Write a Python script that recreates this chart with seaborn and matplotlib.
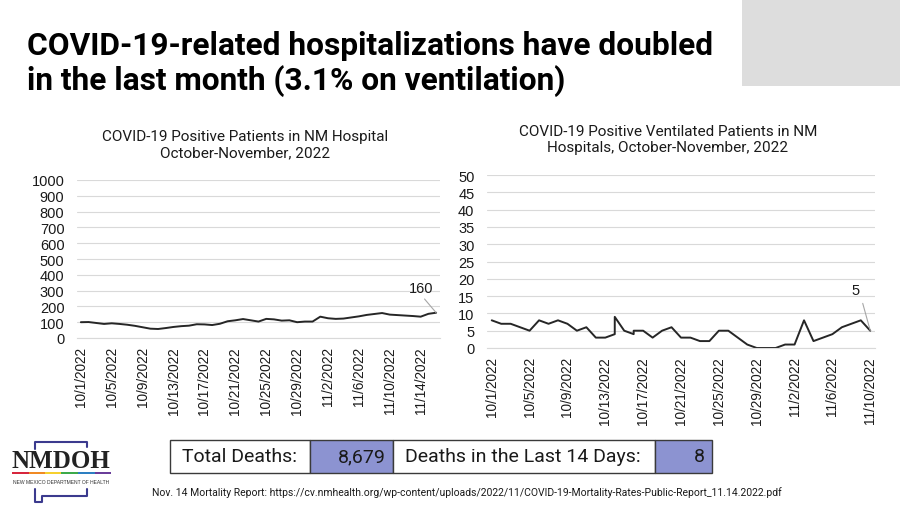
import numpy as np
import pandas as pd
import matplotlib
matplotlib.use("Agg")
import matplotlib.pyplot as plt
import matplotlib.dates as mdates
from matplotlib.patches import Rectangle
from matplotlib.lines import Line2D
import seaborn as sns

# Hospitalised patients, one value per day from 10/1/2022
hosp_start = "2022-10-01"
hosp_values = [100, 101, 95, 89, 93, 89, 84, 77, 68, 59,
               57, 63, 70, 75, 78, 87, 86, 82, 90, 106,
               112, 120, 112, 104, 121, 118, 110, 112, 100, 104,
               104, 135, 125, 121, 123, 130, 137, 146, 152, 158,
               148, 145, 142, 139, 135, 153, 160]

# Ventilated patients (some dates appear twice in the source sheet)
vent_dates = ["10/1", "10/2", "10/3", "10/4", "10/5", "10/6", "10/7", "10/8",
              "10/9", "10/10", "10/11", "10/12", "10/13", "10/14", "10/14",
              "10/15", "10/16", "10/16", "10/17", "10/18", "10/19", "10/20",
              "10/21", "10/22", "10/23", "10/24", "10/25", "10/26", "10/27",
              "10/28", "10/29", "10/30", "10/31", "11/1", "11/2", "11/3",
              "11/4", "11/5", "11/6", "11/7", "11/8", "11/9", "11/10"]
vent_values = [8, 7, 7, 6, 5, 8, 7, 8, 7, 5, 6, 3, 3, 4, 9,
               5, 4, 5, 5, 3, 5, 6, 3, 3, 2, 2, 5, 5, 3,
               1, 0, 0, 0, 1, 1, 8, 2, 3, 4, 6, 7, 8, 5]

title = "COVID-19-related hospitalizations have doubled\nin the last month (3.1% on ventilation)"
hosp_title = "COVID-19 Positive Patients in NM Hospital\nOctober-November, 2022"
vent_title = "COVID-19 Positive Ventilated Patients in NM\nHospitals, October-November, 2022"
table_labels = ["Total Deaths:", "Deaths in the Last 14 Days:"]
table_values = ["8,679", "8"]
source_note = ("Nov. 14 Mortality Report: https://cv.nmhealth.org/wp-content/uploads/"
               "2022/11/COVID-19-Mortality-Rates-Public-Report_11.14.2022.pdf")

hosp = pd.DataFrame({
    "date": pd.date_range(hosp_start, periods=len(hosp_values), freq="D"),
    "patients": hosp_values,
})
vent = pd.DataFrame({
    "date": pd.to_datetime([d + "/2022" for d in vent_dates], format="%m/%d/%Y"),
    "patients": vent_values,
})

sns.set_theme(style="white")
plt.rcParams["font.family"] = ["Liberation Sans", "DejaVu Sans"]

LINE = "#262626"
GRID = "#D9D9D9"
TXT = "#1a1a1a"
HEAD = "Roboto"

fig = plt.figure(figsize=(9, 5.06), dpi=100)
W, H = 900, 506


def fx(px):
    return px / W


def fy(py):
    return 1 - py / H


def style_axes(ax, dates, ymax, ystep):
    start, end = dates.min(), dates.max()
    half = pd.Timedelta(hours=12)
    ax.set_xlim(mdates.date2num(start - half), mdates.date2num(end + half))
    ax.set_ylim(0, ymax)
    ax.set_yticks(np.arange(0, ymax + 1, ystep))
    ticks = pd.date_range(start, end, freq="4D")
    ax.set_xticks(mdates.date2num(ticks))
    ax.set_xticklabels([f"{d.month}/{d.day}/{d.year}" for d in ticks],
                       rotation=90, fontsize=9.8, color=TXT)
    ax.set_xticks(mdates.date2num(ticks - half), minor=True)
    ax.tick_params(axis="x", which="major", length=0, pad=6)
    ax.tick_params(axis="x", which="minor", length=4, color=GRID, width=0.8)
    ax.tick_params(axis="y", length=0, pad=9, labelsize=10.5, labelcolor=TXT)
    ax.grid(axis="y", color=GRID, linewidth=0.8)
    ax.grid(axis="x", visible=False)
    for side in ["top", "left", "right"]:
        ax.spines[side].set_visible(False)
    ax.spines["bottom"].set_color(GRID)
    ax.spines["bottom"].set_linewidth(0.8)
    ax.set_xlabel("")
    ax.set_ylabel("")


# left chart
ax1 = fig.add_axes([fx(77), fy(339), fx(440 - 77), (339 - 181) / H])
sns.lineplot(data=hosp, x="date", y="patients", ax=ax1, color=LINE, linewidth=1.4)
style_axes(ax1, hosp["date"], 1000, 100)
last = hosp.iloc[-1]
ax1.annotate(f"{last['patients']}", xy=(mdates.date2num(last["date"]), last["patients"]),
             xytext=(-11, 13), textcoords="offset points", ha="center", va="bottom",
             fontsize=10.5, color=TXT,
             arrowprops=dict(arrowstyle="-", color="#A6A6A6", lw=0.8, shrinkA=1, shrinkB=0,
                             relpos=(0.5, 0)))
fig.text(fx(245), fy(145), hosp_title, ha="center", va="center", fontsize=11,
         family=HEAD, color=TXT, linespacing=1.15)

# right chart
ax2 = fig.add_axes([fx(487), fy(349), fx(875 - 487), (349 - 176) / H])
sns.lineplot(data=vent, x="date", y="patients", ax=ax2, color=LINE, linewidth=1.4,
             estimator=None, sort=False)
style_axes(ax2, vent["date"], 50, 5)
lastv = vent.iloc[-1]
ax2.annotate(f"{lastv['patients']}", xy=(mdates.date2num(lastv["date"]), lastv["patients"]),
             xytext=(-8, 29), textcoords="offset points", ha="right", va="center",
             fontsize=10.5, color=TXT,
             arrowprops=dict(arrowstyle="-", color="#A6A6A6", lw=0.8, shrinkA=2, shrinkB=0,
                             relpos=(1, 0.5)))
fig.text(fx(668), fy(140), vent_title, ha="center", va="center", fontsize=11,
         family=HEAD, color=TXT, linespacing=1.15)

# headline and grey corner block
fig.text(fx(27), fy(64), title, ha="left", va="center", fontsize=22.8, family=HEAD,
         weight="bold", color="black", linespacing=1.18)
fig.patches.append(Rectangle((fx(742), fy(87)), fx(158), 87 / H, transform=fig.transFigure,
                             facecolor="#DDDDDD", edgecolor="none"))

# deaths table
edges = [170, 310, 393, 655, 712]
top, bot = 441, 474
for i in range(4):
    fill = "#8C93D1" if i % 2 else "white"
    fig.patches.append(Rectangle((fx(edges[i]), fy(bot)), fx(edges[i + 1] - edges[i]),
                                 (bot - top) / H, transform=fig.transFigure,
                                 facecolor=fill, edgecolor="#3a3a3a", linewidth=1.0))
for i, (lab, val) in enumerate(zip(table_labels, table_values)):
    fig.text(fx(edges[2 * i] + 12), fy((top + bot) / 2), lab, ha="left", va="center",
             fontsize=14, family=HEAD, color=TXT)
    fig.text(fx(edges[2 * i + 2] - 7), fy((top + bot) / 2), val, ha="right", va="center",
             fontsize=14, family=HEAD, color=TXT)

fig.text(fx(152), fy(493), source_note, ha="left", va="center", fontsize=7.5,
         family=HEAD, color=TXT)

# NMDOH logo
logo_blue = "#3B3A8E"
outline = [
    [(35, 450), (35, 443), (87, 443), (87, 448)],
    [(35, 490), (35, 503), (42, 503), (42, 497), (87, 497), (87, 490)],
]
for seg in outline:
    xs, ys = zip(*seg)
    fig.lines.append(Line2D([fx(x) for x in xs], [fy(y) for y in ys],
                            transform=fig.transFigure, color=logo_blue, lw=1.5))
fig.text(fx(61), fy(462), "NMDOH", ha="center", va="center", fontsize=18,
         family="Liberation Serif", weight="bold", color="#222222")
stripe = ["#D7263D", "#F08A24", "#F6D02F", "#3DAA4A", "#2D7FC1", "#6A3D9A"]
for i, c in enumerate(stripe):
    fig.patches.append(Rectangle((fx(12 + i * 16.5), fy(474.5)), fx(16.5), 2 / H,
                                 transform=fig.transFigure, facecolor=c, edgecolor="none"))
fig.text(fx(61), fy(483), "NEW MEXICO DEPARTMENT OF HEALTH", ha="center", va="center",
         fontsize=3.6, color="#333333")

fig.savefig("out.png", dpi=100)
